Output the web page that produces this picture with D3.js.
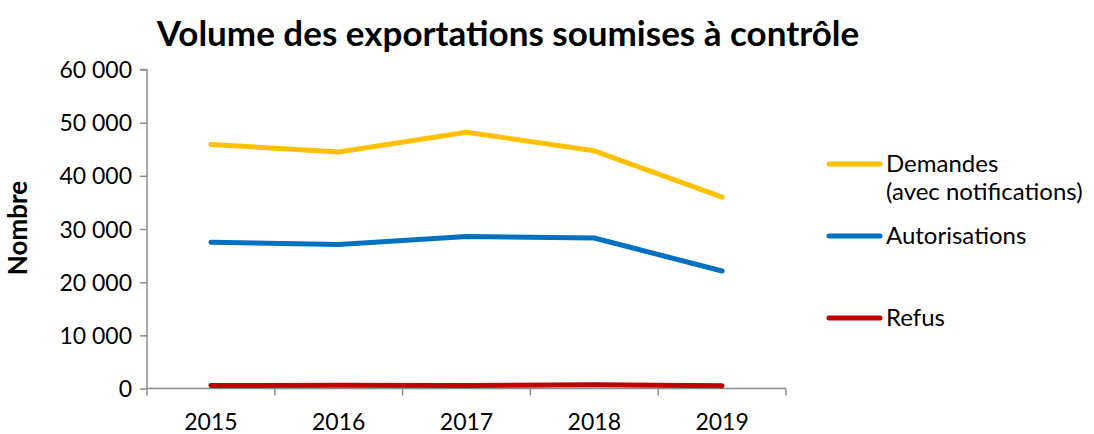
<!DOCTYPE html>
<html>
<head>
<meta charset="utf-8">
<script src="https://cdn.jsdelivr.net/npm/d3@7"></script>
<style>
  body { margin: 0; background: #fff; }
  text { font-family: Lato, "Open Sans", sans-serif; fill: #000; }
</style>
</head>
<body>
<div id="chart"></div>
<script>
const years = ["2015", "2016", "2017", "2018", "2019"];
const demandes = [45900, 44500, 48200, 44700, 36000];
const autorisations = [27500, 27100, 28600, 28300, 22100];
const refus = [550, 600, 550, 700, 500];
const yTicks = [0, 10000, 20000, 30000, 40000, 50000, 60000];

const seriesNames = [["Demandes", "(avec notifications)"], ["Autorisations"], ["Refus"]];
const seriesColors = ["#FFC000", "#0070C0", "#C00000"];
const allSeries = [demandes, autorisations, refus];

const width = 1094, height = 434;
const margin = {top: 70, left: 147, right: 308, bottom: 46};

const svg = d3.select("#chart").append("svg")
    .attr("width", width)
    .attr("height", height);

const x = d3.scaleBand().domain(years).range([margin.left, width - margin.right]);
const y = d3.scaleLinear().domain([0, 60000]).range([388.5, 69.5]);

const fmt = d => d3.format(",")(d).replace(/,/g, " ");

// y axis
const yAxis = svg.append("g")
    .attr("transform", `translate(${margin.left},0)`)
    .call(d3.axisLeft(y).tickValues(yTicks).tickSize(7).tickPadding(8).tickFormat(fmt));
yAxis.selectAll("text").style("font-size", "23px").attr("dy", "0.35em");

// x axis
const xAxis = svg.append("g")
    .attr("transform", `translate(0,${y(0)})`)
    .call(d3.axisBottom(x).tickSize(0).tickPadding(25));
xAxis.selectAll("text").style("font-size", "23px");
xAxis.selectAll(".tick-mark")
    .data(d3.range(years.length + 1))
    .enter().append("line")
    .attr("class", "tick-mark")
    .attr("x1", i => margin.left + i * x.step())
    .attr("x2", i => margin.left + i * x.step())
    .attr("y1", 0).attr("y2", 7);

svg.selectAll(".domain, .tick line, .tick-mark")
    .attr("stroke", "#8c8c8c")
    .attr("stroke-width", 1.5);
yAxis.select(".domain").attr("d", `M-7,${y(60000)}H0V${y(0)}`);
xAxis.select(".domain").attr("d", `M${margin.left},0H${width - margin.right}`);

// lines
const line = d3.line()
    .x((d, i) => x(years[i]) + x.bandwidth() / 2)
    .y(d => y(d));

allSeries.forEach((s, i) => {
    svg.append("path")
        .datum(s)
        .attr("d", line)
        .attr("fill", "none")
        .attr("stroke", seriesColors[i])
        .attr("stroke-width", 5)
        .attr("stroke-linecap", "round")
        .attr("stroke-linejoin", "round");
});

// title
svg.append("text")
    .attr("x", 508)
    .attr("y", 46)
    .attr("text-anchor", "middle")
    .style("font-size", "35px")
    .style("font-weight", "bold")
    .text("Volume des exportations soumises à contrôle");

// y axis label
svg.append("text")
    .attr("transform", "translate(27,228) rotate(-90)")
    .attr("text-anchor", "middle")
    .style("font-size", "26px")
    .style("font-weight", "bold")
    .text("Nombre");

// legend
const legendY = [164, 236, 318];
const legend = svg.append("g");
seriesNames.forEach((names, i) => {
    legend.append("line")
        .attr("x1", 829).attr("x2", 880)
        .attr("y1", legendY[i]).attr("y2", legendY[i])
        .attr("stroke", seriesColors[i])
        .attr("stroke-width", 5)
        .attr("stroke-linecap", "round");
    names.forEach((n, j) => {
        legend.append("text")
            .attr("x", 886)
            .attr("y", legendY[i] + j * 28)
            .attr("dy", "0.35em")
            .style("font-size", "24px")
            .text(n);
    });
});
</script>
</body>
</html>
